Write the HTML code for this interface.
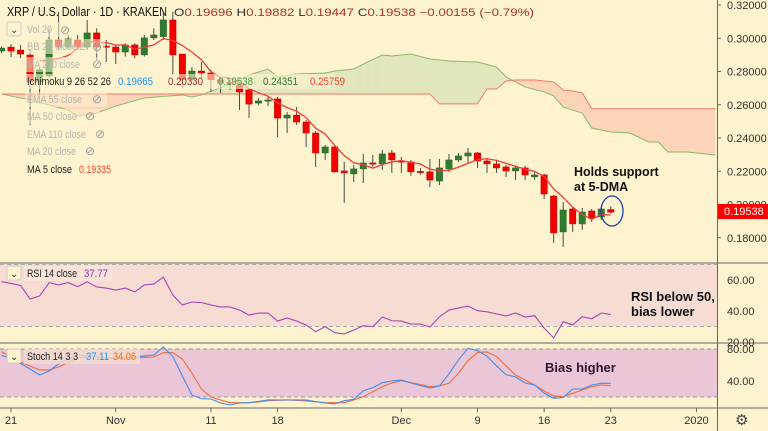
<!DOCTYPE html>
<html><head><meta charset="utf-8"><style>
html,body{margin:0;padding:0;background:#fef3cf;}
svg{display:block;font-family:"Liberation Sans",sans-serif;}
.ax{font-size:11px;fill:#333;}
.lg{font-size:11px;fill:#b9b6ae;}
</style></head><body>
<svg id="c" width="768" height="431" viewBox="0 0 768 431">
<rect x="0" y="0" width="768" height="431" fill="#fef3cf"/>
<defs><clipPath id="pc"><rect x="0" y="0" width="717" height="262"/></clipPath>
<clipPath id="rc"><rect x="0" y="264" width="717" height="78"/></clipPath>
<clipPath id="sc"><rect x="0" y="344" width="717" height="63"/></clipPath></defs>
<g id="cloud" clip-path="url(#pc)"></g>
<g id="candles" clip-path="url(#pc)"></g>
<g id="rsi">
<rect x="0" y="264" width="717" height="62" fill="#f6dcd2"/>
<line x1="0" x2="717" y1="264.5" y2="264.5" stroke="#aaa" stroke-dasharray="4,3"/>
<line x1="0" x2="717" y1="326.5" y2="326.5" stroke="#aaa" stroke-dasharray="4,3"/>
</g>
<g id="stoch">
<rect x="0" y="349" width="717" height="48" fill="#ebc6d6"/>
<line x1="0" x2="717" y1="349" y2="349" stroke="#999" stroke-dasharray="4,3"/>
<line x1="0" x2="717" y1="397" y2="397" stroke="#999" stroke-dasharray="4,3"/>
</g>
<g id="lines"></g>
<line x1="0" x2="768" y1="263" y2="263" stroke="#666"/>
<line x1="0" x2="768" y1="343" y2="343" stroke="#666"/>
<line x1="0" x2="768" y1="408" y2="408" stroke="#666"/>
<line x1="717.5" x2="717.5" y1="0" y2="431" stroke="#666"/>
<g id="axis" class="ax"></g>
<g>
<text x="7" y="16" font-size="13" fill="#111" textLength="160" lengthAdjust="spacingAndGlyphs">XRP / U.S. Dollar · 1D · KRAKEN</text>
<text x="174" y="16" font-size="11" fill="#a33" textLength="360" lengthAdjust="spacingAndGlyphs"><tspan fill="#333">O</tspan>0.19696 <tspan fill="#333">H</tspan>0.19882 <tspan fill="#333">L</tspan>0.19447 <tspan fill="#333">C</tspan>0.19538 −0.00155 (−0.79%)</text>
<rect x="7" y="22" width="14" height="14" rx="2" fill="#fef3cf" stroke="#ccc"/>
<text x="10" y="33" font-size="10" fill="#333">⌄</text>
<rect x="25" y="22" width="52" height="15" fill="#fef3cf" opacity="0.55"/>
<rect x="25" y="39" width="80" height="15" fill="#fef3cf" opacity="0.55"/>
<rect x="25" y="57" width="80" height="15" fill="#fef3cf" opacity="0.55"/>
<rect x="25" y="74" width="310" height="15" fill="#fef3cf" opacity="0.6"/>
<rect x="25" y="92" width="82" height="15" fill="#fef3cf" opacity="0.55"/>
<rect x="25" y="109" width="75" height="15" fill="#fef3cf" opacity="0.55"/>
<rect x="25" y="127" width="86" height="15" fill="#fef3cf" opacity="0.55"/>
<rect x="25" y="144" width="75" height="15" fill="#fef3cf" opacity="0.55"/>
<text x="27" y="33" class="lg" textLength="25" lengthAdjust="spacingAndGlyphs">Vol 20</text>
<text x="60" y="34" font-size="12" fill="#999">⊘</text>
<text x="27" y="50" class="lg" textLength="58" lengthAdjust="spacingAndGlyphs">BB 20 close 2</text>
<text x="92" y="51" font-size="12" fill="#999">⊘</text>
<text x="27" y="68" class="lg" textLength="53" lengthAdjust="spacingAndGlyphs">MA 200 close</text>
<text x="92" y="68" font-size="12" fill="#999">⊘</text>
<text x="27" y="85" font-size="11" fill="#222" textLength="84" lengthAdjust="spacingAndGlyphs">Ichimoku 9 26 52 26</text>
<text x="118" y="85" font-size="11" fill="#2196f3" textLength="35" lengthAdjust="spacingAndGlyphs">0.19665</text>
<text x="168" y="85" font-size="11" fill="#9b2b2b" textLength="35" lengthAdjust="spacingAndGlyphs">0.20330</text>
<text x="218" y="85" font-size="11" fill="#43a047" textLength="35" lengthAdjust="spacingAndGlyphs">0.19538</text>
<text x="263" y="85" font-size="11" fill="#2e7d32" textLength="35" lengthAdjust="spacingAndGlyphs">0.24351</text>
<text x="310" y="85" font-size="11" fill="#f44336" textLength="35" lengthAdjust="spacingAndGlyphs">0.25759</text>
<text x="27" y="103" class="lg" textLength="55" lengthAdjust="spacingAndGlyphs">EMA 55 close</text>
<text x="92" y="103" font-size="12" fill="#999">⊘</text>
<text x="27" y="120" class="lg" textLength="50" lengthAdjust="spacingAndGlyphs">MA 50 close</text>
<text x="85" y="120" font-size="12" fill="#999">⊘</text>
<text x="27" y="138" class="lg" textLength="59" lengthAdjust="spacingAndGlyphs">EMA 110 close</text>
<text x="95" y="138" font-size="12" fill="#999">⊘</text>
<text x="27" y="155" class="lg" textLength="49" lengthAdjust="spacingAndGlyphs">MA 20 close</text>
<text x="85" y="155" font-size="12" fill="#999">⊘</text>
<text x="27" y="173" font-size="11" fill="#222" textLength="45" lengthAdjust="spacingAndGlyphs">MA 5 close</text>
<text x="79" y="173" font-size="11" fill="#f44336" textLength="32" lengthAdjust="spacingAndGlyphs">0.19335</text>
<rect x="7" y="266" width="14" height="14" rx="2" fill="#fef3cf" stroke="#ccc"/>
<text x="10" y="277" font-size="10" fill="#333">⌄</text>
<rect x="24" y="266" width="88" height="15" fill="#f9e6dc" opacity="0.8"/>
<text x="27" y="277" font-size="11" fill="#222" textLength="50" lengthAdjust="spacingAndGlyphs">RSI 14 close</text>
<text x="84" y="277" font-size="11" fill="#9c27b0" textLength="24" lengthAdjust="spacingAndGlyphs">37.77</text>
<rect x="7" y="349" width="14" height="14" rx="2" fill="#fef3cf" stroke="#ccc"/>
<text x="10" y="360" font-size="10" fill="#333">⌄</text>
<rect x="24" y="349" width="116" height="15" fill="#f3dccf" opacity="0.8"/>
<text x="27" y="360" font-size="11" fill="#222" textLength="51" lengthAdjust="spacingAndGlyphs">Stoch 14 3 3</text>
<text x="86" y="360" font-size="11" fill="#2196f3" textLength="23" lengthAdjust="spacingAndGlyphs">37.11</text>
<text x="113" y="360" font-size="11" fill="#ff6d00" textLength="23" lengthAdjust="spacingAndGlyphs">34.06</text>
</g>
<g>
<text x="574" y="176" font-size="12.5" font-weight="bold" fill="#111"><tspan x="574">Holds support</tspan><tspan x="574" dy="15">at 5-DMA</tspan></text>
<ellipse cx="612" cy="211" rx="11" ry="15" fill="none" stroke="#1a3ea8" stroke-width="1.3"/>
<text x="631" y="301" font-size="13" font-weight="bold" fill="#111"><tspan x="631">RSI below 50,</tspan><tspan x="631" dy="15">bias lower</tspan></text>
<text x="545" y="372" font-size="13" font-weight="bold" fill="#2a1530">Bias higher</text>
</g>
<rect x="718" y="204" width="50" height="15" fill="#f00"/>
<text x="724" y="215" font-size="11" fill="#fff">0.19538</text>
<text x="735" y="425" font-size="15" fill="#444">⚙</text>
</svg>
<script>
const opens=[.2923,.2947,.2929,.2899,.2737,.2773,.299,.2947,.299,.2947,.3032,.2953,.2947,.2917,.296,.290,.3002,.301,.311,.2905,.275,.2803,.2791,.275,.2735,.272,.269,.261,.2627,.2635,.252,.2538,.2496,.243,.231,.2346,.2202,.2184,.2214,.2250,.2244,.231,.2262,.2256,.2199,.2196,.2141,.2214,.2268,.2292,.2310,.2262,.2244,.2226,.2202,.2220,.2166,.2178,.2051,.1835,.1973,.1883,.1961,.1925,.19696];
const highs=[.295,.2965,.2959,.293,.282,.306,.3158,.302,.302,.311,.306,.299,.296,.297,.297,.302,.306,.316,.316,.2905,.2827,.2857,.281,.276,.275,.273,.270,.264,.2653,.2647,.2556,.2587,.2508,.2442,.2358,.2358,.2256,.2238,.2304,.2298,.2328,.2328,.2286,.2268,.222,.2274,.2274,.2304,.231,.2340,.2316,.2280,.2262,.2238,.2232,.2232,.2196,.2184,.2057,.2015,.1985,.1979,.1973,.1985,.19882];
const lows=[.291,.2887,.2881,.2478,.2658,.276,.293,.293,.293,.293,.287,.2857,.2845,.289,.288,.289,.299,.299,.278,.270,.274,.2761,.2677,.267,.269,.2568,.252,.2598,.2593,.2406,.243,.2478,.2346,.2226,.2268,.219,.201,.2135,.2129,.2226,.2208,.219,.219,.2172,.2178,.2105,.2117,.2196,.2256,.2250,.2220,.2190,.2190,.2166,.2147,.2147,.2147,.2033,.1769,.1745,.1835,.1847,.1895,.1907,.19447];
const closes=[.2941,.2923,.2905,.2737,.281,.299,.2947,.2996,.2947,.3032,.2947,.2949,.2917,.296,.290,.3002,.302,.311,.290,.275,.2803,.2791,.275,.273,.2725,.2677,.2604,.2623,.2629,.252,.2538,.2496,.243,.231,.2346,.2196,.219,.2214,.225,.2244,.2304,.2268,.2256,.2196,.2196,.2147,.2220,.2268,.2292,.2310,.2262,.2244,.2220,.2202,.2220,.2178,.2178,.2063,.1829,.1967,.1883,.1955,.1919,.1973,.19538];
const spanAIdx=[0,3,7,8,10,12,15,19,20,21,24,26,28,29,31,34,35,37,38,40,41,43,45,47,50,52,53,54,55,57,58,59,61,62,64,66,68,69,70,72,75];
const spanA=[.2665,.2629,.2568,.2532,.255,.2592,.2641,.2659,.2647,.2659,.2725,.2779,.2815,.2767,.2785,.2791,.2803,.2815,.2845,.2899,.2893,.2905,.2875,.2863,.2857,.2827,.2767,.2737,.2707,.2677,.2653,.2586,.255,.246,.2436,.243,.2376,.2376,.2316,.2316,.2298];
const spanBIdx=[0,45,46,50,51,52,53,54,56,57,58,59,60,61,62,75];
const spanB=[.2665,.2665,.2605,.2605,.2695,.2695,.2743,.2749,.2749,.2743,.2737,.2689,.2683,.2671,.2576,.2576];
const rsiVals=[58.9,57.8,56.5,47.7,49.7,58.3,56.8,58.3,55.7,58.9,55.5,54.8,53.5,54.8,52.3,56.8,57.4,61.9,50.3,43.9,45.8,45.4,43.9,42.6,42.6,40.6,37.4,38.7,38.7,33.5,35.5,33.5,31,26.6,29.9,26,25.2,27.7,30.5,29.9,36.1,33.7,33.5,31.6,31.6,29.7,36.3,40.6,41.9,43.2,40.2,39.5,38.1,36.8,38.7,36.1,37,29,22.6,33.1,31,36.3,35,38.7,37.8];
const stochK=[72.5,67.5,61.9,55,47.5,52.5,61.3,67.5,72.5,71.3,70.4,69.4,68.8,68.8,70,71.3,72.5,82.5,70.4,46.3,22.5,17.9,17.5,12.5,10,12.5,12.9,14.4,16.3,16.3,16.3,16.3,16.3,14.1,12.5,11.3,15.4,17.1,27.9,31.6,37.9,40,41.3,37.5,34.4,31.3,33.8,48.8,66.3,81,77.9,71,58.8,48,45,37.5,35,25,18.4,19.4,30,30,35,37.1,37.1];
const stochD=[76.6,70,63.8,58.8,53.8,53.8,57.5,63.1,68.8,69.6,70.4,68.8,67.5,68.1,68.8,69.4,70,75.4,75.4,67.5,50,30,20,16.3,12.9,12.9,12.9,13.8,15.4,15.9,16.3,15.9,15,14.1,13.1,12.9,12.9,16.3,20.4,26.6,32.9,37.5,40.4,37.9,35.6,32.9,33.8,37.1,49.6,65.6,75.6,76.3,70.6,58.8,47.5,41.3,35,27.5,21.3,20.4,24.6,28.8,32.9,35,34.1];
const priceTicks=[0.32,0.30,0.28,0.26,0.24,0.22,0.20,0.18];
const rsiTicks=[60,40,20];
const stochTicks=[80,40];
const dateLabels=["21","Nov","11","18","Dec","9","16","23","2020"];
const dateIdx=[1,12,22,29,42,50,57,64,73];

const NS="http://www.w3.org/2000/svg";
function mk(tag,attrs,parent){const e=document.createElementNS(NS,tag);for(const k in attrs)e.setAttribute(k,attrs[k]);parent.appendChild(e);return e;}
const X=i=>1.5+9.52*i;
const Y=p=>5+(0.32-p)/0.02*33.25;
const RY=v=>311-(v-40)*1.55;
const SY=v=>349+(80-v)*0.8;
function interp(idx,vals,i){for(let k=0;k<idx.length-1;k++){if(i>=idx[k]&&i<=idx[k+1]){const t=(i-idx[k])/(idx[k+1]-idx[k]);return vals[k]+t*(vals[k+1]-vals[k]);}}return vals[vals.length-1];}

const cg=document.getElementById('cloud');
for(let i=0;i<75;i++){
  const a0=interp(spanAIdx,spanA,i),a1=interp(spanAIdx,spanA,i+1),b0=interp(spanBIdx,spanB,i),b1=interp(spanBIdx,spanB,i+1);
  const up=(a0+a1)>=(b0+b1);
  const q=mk('polygon',{points:`${X(i)},${Y(a0)} ${X(i+1)},${Y(a1)} ${X(i+1)},${Y(b1)} ${X(i)},${Y(b0)}`,fill:up?'#e2e6bc':'#fcd4b8'},cg);
  
  
}
let pa='',pb='';
for(let i=0;i<=75;i++){pa+=(i?'L':'M')+X(i)+','+Y(interp(spanAIdx,spanA,i));pb+=(i?'L':'M')+X(i)+','+Y(interp(spanBIdx,spanB,i));}
const la=mk('path',{d:pa,fill:'none',stroke:'#8ab86a','stroke-width':1},cg);


const lb=mk('path',{d:pb,fill:'none',stroke:'#f07a6a','stroke-width':1},cg);



const kg=document.getElementById('candles');
for(let i=0;i<closes.length;i++){
  const x=X(i),up=closes[i]>=opens[i];
  const w=mk('line',{x1:x,x2:x,y1:Y(highs[i]),y2:Y(lows[i]),stroke:'#4a4a4a','stroke-width':1},kg);
  
  
  const t=Math.min(Y(opens[i]),Y(closes[i])),h=Math.max(1.2,Math.abs(Y(opens[i])-Y(closes[i])));
  const b=mk('rect',{x:x-3.2,y:t,width:6.4,height:h,fill:up?'#2e7d2e':'#f20000',stroke:up?'#2a5e2a':'#c00000','stroke-width':0.5},kg);
  
  
}
let pm='';
for(let i=4;i<closes.length;i++){let s=0;for(let k=i-4;k<=i;k++)s+=closes[k];pm+=(i>4?'L':'M')+X(i)+','+Y(s/5);}
const ma=mk('path',{d:pm,fill:'none',stroke:'#f03c3c','stroke-width':1.3},kg);



const lg=document.getElementById('lines');
function line(vals,fy,color,name,clip){let d='';vals.forEach((v,i)=>{d+=(i?'L':'M')+X(i)+','+fy(v);});const p=mk('path',{d:d,fill:'none',stroke:color,'stroke-width':1.1,'clip-path':clip},lg);

}
line(rsiVals,RY,'#a845b8','rsi-line','url(#rc)');
line(stochD,SY,'#f26b3a','stoch-d-line','url(#sc)');
line(stochK,SY,'#3d8ef0','stoch-k-line','url(#sc)');

const ag=document.getElementById('axis');
priceTicks.forEach(p=>{const t=mk('text',{x:727,y:Y(p)+4},ag);t.textContent=p.toFixed(5);


const tk=mk('line',{x1:717,x2:721,y1:Y(p),y2:Y(p),stroke:'#666'},ag);

});
rsiTicks.forEach(v=>{const t=mk('text',{x:727,y:RY(v)+4},ag);t.textContent=v.toFixed(2);

});
stochTicks.forEach(v=>{const t=mk('text',{x:727,y:SY(v)+4},ag);t.textContent=v.toFixed(2);

});
dateLabels.forEach((s,k)=>{const t=mk('text',{x:X(dateIdx[k]),y:424,'text-anchor':'middle'},ag);t.textContent=s;


const tk=mk('line',{x1:X(dateIdx[k]),x2:X(dateIdx[k]),y1:408,y2:412,stroke:'#666'},ag);

});
</script>
</body></html>
